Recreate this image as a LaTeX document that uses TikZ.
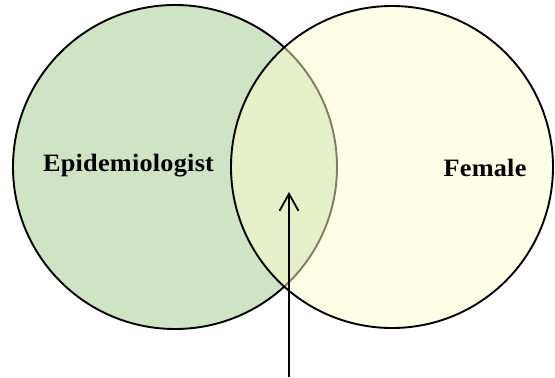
\documentclass[tikz,border=0pt]{standalone}
\usepackage{fontspec}
\setmainfont{Liberation Serif}
\newfontfamily\setlabelfont[FakeStretch=1.05,LetterSpace=1]{Liberation Serif}
\usetikzlibrary{arrows.meta}
\definecolor{setgreen}{RGB}{207,228,196}
\definecolor{setyellow}{RGB}{253,253,205}
\tikzset{
  setcircle/.style={circle, draw=black, line width=1.9pt, inner sep=0pt},
  setlabel/.style={anchor=base, inner sep=0pt,
    font=\setlabelfont\bfseries\fontsize{25}{30}\selectfont},
  pointer/.style={draw=black, line width=1.8pt,
    -{Straight Barb[length=17pt,width=19pt,line width=1.8pt]}}
}
\begin{document}
\begin{tikzpicture}[x=1pt,y=-1pt]
  \useasboundingbox (0,0) rectangle (555,378);
  % the two sets; the right one is translucent so the overlap blends
  \node[setcircle, fill=setgreen, minimum size=324pt] (epi) at (175,167) {};
  \node[setcircle, fill=setyellow, fill opacity=0.5, minimum size=322pt] (fem) at (392,167) {};
  % set names
  \node[setlabel] (epilabel) at (128.5,171.7) {Epidemiologist};
  \node[setlabel] (femlabel) at (485,176.7) {Female};
  % arrow pointing into the intersection
  \coordinate (arrowfoot) at (289,377);
  \coordinate (arrowtip) at (289,192);
  \draw[pointer] (arrowfoot) -- (arrowtip);
\end{tikzpicture}
\end{document}
